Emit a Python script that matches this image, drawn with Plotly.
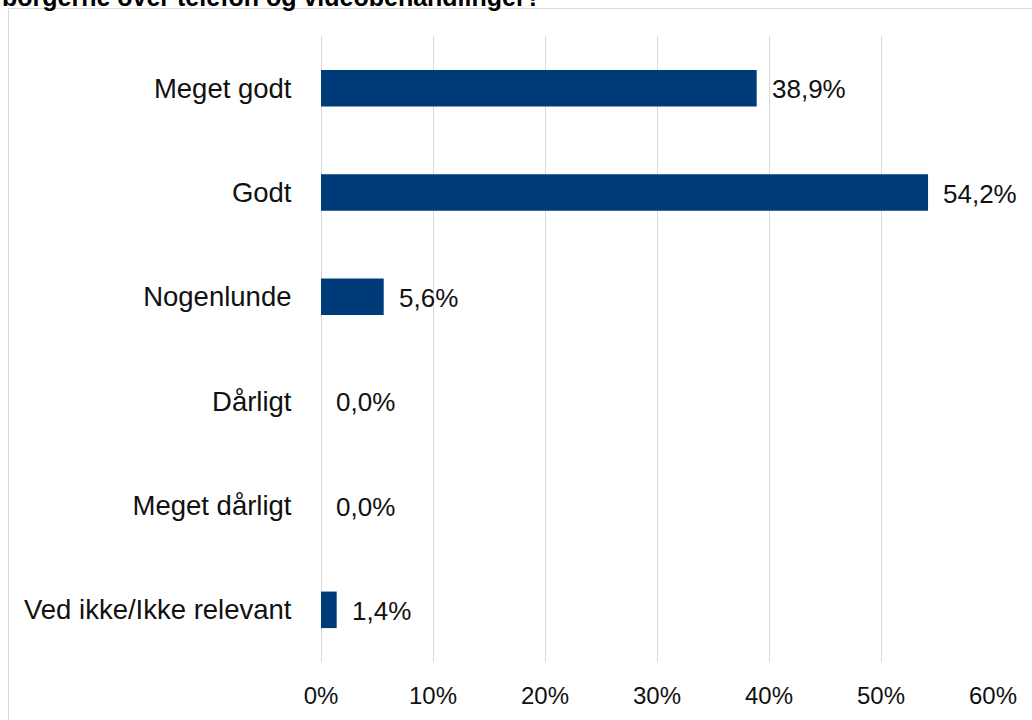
import plotly.graph_objects as go

# Survey answers and their shares (%)
categories = ["Meget godt", "Godt", "Nogenlunde", "Dårligt", "Meget dårligt", "Ved ikke/Ikke relevant"]
shares = [38.9, 54.2, 5.6, 0.0, 0.0, 1.4]
tick_values = [0, 10, 20, 30, 40, 50, 60]
tick_labels = ["0%", "10%", "20%", "30%", "40%", "50%", "60%"]
title_text = "borgerne over telefon og videobehandlinger?"

W, H = 1032, 720
L, R, T, B = 321, 39, 36, 58
plot_w = W - L - R
plot_h = H - T - B

FONT = "Liberation Sans, Arial, sans-serif"
BAR_COLOR = "#003B79"
TEXT_COLOR = "#111111"


def px_to_paper_x(px):
    return (px - L) / plot_w


def px_to_paper_y(py):
    return (H - B - py) / plot_h


labels = [f"{v:.1f}%".replace(".", ",") for v in shares]

fig = go.Figure(
    go.Bar(
        x=shares,
        y=categories,
        orientation="h",
        marker=dict(color=BAR_COLOR, line=dict(width=0)),
        width=0.35,
        hoverinfo="skip",
    )
)

# value labels placed just past the end of each bar
value_annotations = [
    dict(
        x=v,
        y=c,
        xref="x",
        yref="y",
        text=t,
        xanchor="left",
        yanchor="middle",
        xshift=13,
        yshift=-1,
        showarrow=False,
        font=dict(family=FONT, size=26, color=TEXT_COLOR),
    )
    for v, c, t in zip(shares, categories, labels)
]

title_annotation = dict(
    text=f"<b>{title_text}</b>",
    xref="paper",
    yref="paper",
    x=px_to_paper_x(0),
    y=px_to_paper_y(13),
    xanchor="left",
    yanchor="bottom",
    showarrow=False,
    font=dict(family=FONT, size=25, color="#000000"),
)

fig.update_layout(
    width=W,
    height=H,
    margin=dict(l=L, r=R, t=T, b=B, pad=0, autoexpand=False),
    paper_bgcolor="white",
    plot_bgcolor="white",
    showlegend=False,
    font=dict(family=FONT, size=26, color=TEXT_COLOR),
    xaxis=dict(
        range=[0, 60],
        tickmode="array",
        tickvals=tick_values,
        ticktext=tick_labels,
        showgrid=True,
        gridcolor="#d9d9d9",
        gridwidth=1,
        zeroline=True,
        zerolinecolor="#d9d9d9",
        zerolinewidth=1,
        showline=False,
        ticks="outside",
        ticklen=12,
        tickcolor="rgba(0,0,0,0)",
        tickfont=dict(size=24),
        automargin=False,
        fixedrange=True,
    ),
    yaxis=dict(
        categoryorder="array",
        categoryarray=categories[::-1],
        showgrid=False,
        zeroline=False,
        showline=False,
        ticks="outside",
        ticklen=23,
        tickcolor="rgba(0,0,0,0)",
        tickfont=dict(size=27.5),
        automargin=False,
        fixedrange=True,
    ),
    shapes=[
        dict(
            type="rect",
            xref="paper",
            yref="paper",
            x0=px_to_paper_x(8.5),
            x1=px_to_paper_x(W + 10),
            y0=px_to_paper_y(H + 10),
            y1=px_to_paper_y(8.5),
            line=dict(color="#d9d9d9", width=1),
            fillcolor="rgba(0,0,0,0)",
            layer="below",
        )
    ],
    annotations=[title_annotation] + value_annotations,
)

fig.write_html("out.html", config={"displayModeBar": False})
